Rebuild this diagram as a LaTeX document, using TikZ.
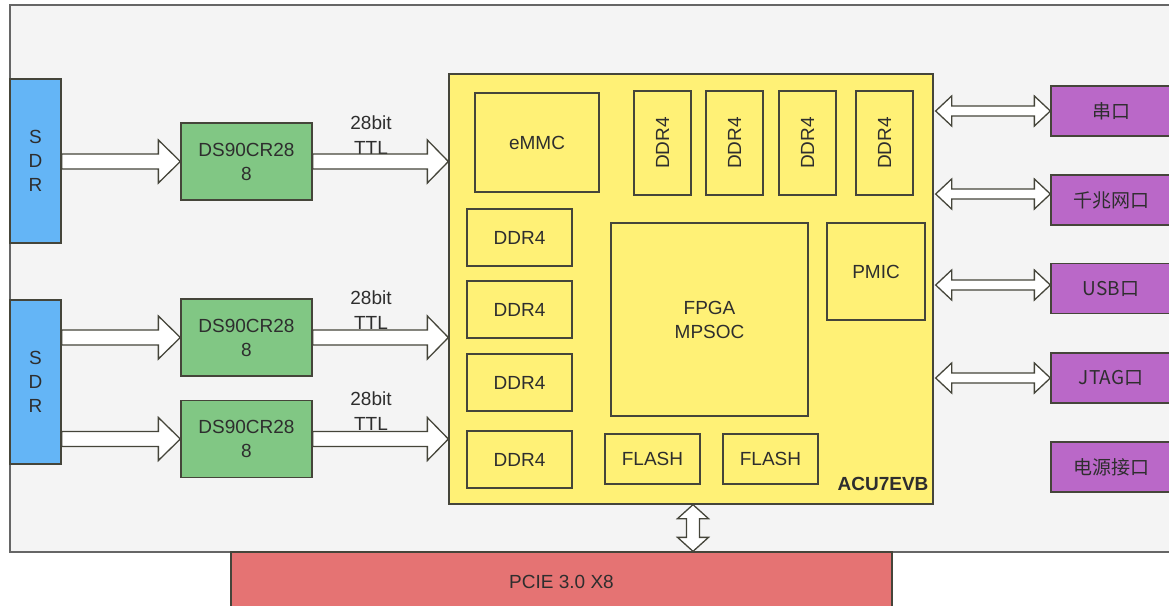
\documentclass[tikz,border=0pt]{standalone}
\usepackage{fontspec}
\setmainfont{Liberation Sans}
\newfontfamily\cjk{Noto Sans CJK SC}
\usetikzlibrary{calc}
\definecolor{framefill}{HTML}{F4F4F4}
\definecolor{framedraw}{HTML}{666666}
\definecolor{boxdraw}{HTML}{45453A}
\definecolor{txt}{HTML}{2E2E2E}
\definecolor{sdrblue}{HTML}{64B5F6}
\definecolor{dsgreen}{HTML}{81C784}
\definecolor{acuyellow}{HTML}{FFF176}
\definecolor{ifpurple}{HTML}{BA68C8}
\definecolor{pciered}{HTML}{E57373}
\newcommand\blkarrow[5]{% start, end, half shaft, half head, head length
  \draw[blockarr] let \p1=#1, \p2=#2 in
    (\x1,\y1+#3) -- (\x2-#5,\y1+#3) -- (\x2-#5,\y1+#4) -- (\x2,\y1)
    -- (\x2-#5,\y1-#4) -- (\x2-#5,\y1-#3) -- (\x1,\y1-#3) -- cycle;}
\newcommand\dblharrow[5]{% left point, right point, half shaft, half head, head length
  \draw[blockarr] let \p1=#1, \p2=#2 in
    (\x1,\y1) -- (\x1+#5,\y1+#4) -- (\x1+#5,\y1+#3) -- (\x2-#5,\y1+#3)
    -- (\x2-#5,\y1+#4) -- (\x2,\y1) -- (\x2-#5,\y1-#4) -- (\x2-#5,\y1-#3)
    -- (\x1+#5,\y1-#3) -- (\x1+#5,\y1-#4) -- cycle;}
\newcommand\dblvarrow[5]{% top point, bottom point, half shaft, half head, head length
  \draw[blockarr] let \p1=#1, \p2=#2 in
    (\x1,\y1) -- (\x1+#4,\y1-#5) -- (\x1+#3,\y1-#5) -- (\x1+#3,\y2+#5)
    -- (\x1+#4,\y2+#5) -- (\x1,\y2) -- (\x1-#4,\y2+#5) -- (\x1-#3,\y2+#5)
    -- (\x1-#3,\y1-#5) -- (\x1-#4,\y1-#5) -- cycle;}
\begin{document}
\begin{tikzpicture}[x=1pt,y=-1pt,
  every node/.style={text=txt,font=\fontsize{19}{24}\selectfont},
  blk/.style={draw=boxdraw,line width=1.3pt,inner sep=0pt,align=center},
  sdrbox/.style={blk,fill=sdrblue,minimum width=51pt,minimum height=164pt},
  dsbox/.style={blk,fill=dsgreen,minimum width=131pt,minimum height=77pt},
  inbox/.style={blk,fill=acuyellow},
  ddrh/.style={inbox,minimum width=105pt,minimum height=57pt},
  ddrv/.style={inbox,minimum width=57pt,minimum height=104pt},
  flashbox/.style={inbox,minimum width=95pt,minimum height=50pt},
  ifbox/.style={blk,fill=ifpurple,minimum width=120pt,minimum height=50pt,font=\fontsize{19}{24}\selectfont\cjk},
  blockarr/.style={draw=boxdraw,line width=1.3pt,fill=white,line join=miter},
  lbl/.style={align=center,inner sep=0pt,font=\fontsize{19}{25}\selectfont}]
\clip (0,0) rectangle (1169,605);
\fill[white] (0,0) rectangle (1169,605);
% outer frame
\draw[fill=framefill,draw=framedraw,line width=1.2pt] (10,5) rectangle (1190,552);
% PCIE
\node[blk,fill=pciered,minimum width=661pt,minimum height=60pt] (pcie) at (561.5,582) {PCIE 3.0 X8};
% SDR
\node[sdrbox] (sdr1) at (35.5,161) {S\\D\\R};
\node[sdrbox] (sdr2) at (35.5,382) {S\\D\\R};
% DS90CR288
\node[dsbox] (ds1) at (246.5,161.5) {DS90CR28\\8};
\node[dsbox] (ds2) at (246.5,337.5) {DS90CR28\\8};
\node[dsbox] (ds3) at (246.5,439) {DS90CR28\\8};
% main board
\node[blk,fill=acuyellow,minimum width=484pt,minimum height=430pt] (acu) at (691,289) {};
\node[anchor=east,inner sep=0pt,font=\fontsize{19}{24}\selectfont\bfseries] (acuname) at ($(acu.south east)+(-5,-21)$) {ACU7EVB};
\node[inbox,minimum width=124pt,minimum height=99pt] (emmc) at (537,142.5) {eMMC};
\node[ddrv] (v1) at (662.5,143) {\rotatebox{90}{DDR4}};
\node[ddrv] (v2) at (734.5,143) {\rotatebox{90}{DDR4}};
\node[ddrv] (v3) at (807.5,143) {\rotatebox{90}{DDR4}};
\node[ddrv] (v4) at (884.5,143) {\rotatebox{90}{DDR4}};
\node[ddrh] (d1) at (519.5,237.5) {DDR4};
\node[ddrh] (d2) at (519.5,309.5) {DDR4};
\node[ddrh] (d3) at (519.5,382.5) {DDR4};
\node[ddrh] (d4) at (519.5,459.5) {DDR4};
\node[inbox,minimum width=197pt,minimum height=193pt] (fpga) at (709.5,319.5) {FPGA\\MPSOC};
\node[inbox,minimum width=98pt,minimum height=97pt] (pmic) at (876,271.5) {PMIC};
\node[flashbox] (fl1) at (652.5,459) {FLASH};
\node[flashbox] (fl2) at (770.5,459) {FLASH};
% interfaces
\node[ifbox] (uart) at (1111,111) {串口};
\node[ifbox] (eth) at (1111,200) {千兆网口};
\node[ifbox] (usb) at (1111,288.5) {USB口};
\node[ifbox] (jtag) at (1111,378) {JTAG口};
\node[ifbox] (pwr) at (1111,467) {电源接口};
% labels
\node[lbl] (l1) at (371,135.5) {28bit\\TTL};
\node[lbl] (l2) at (371,310.5) {28bit\\TTL};
\node[lbl] (l3) at (371,411) {28bit\\TTL};
% left arrows
\blkarrow{(sdr1.east |- ds1.west)}{(ds1.west)}{7.5pt}{21.5pt}{22pt}
\blkarrow{(sdr2.east |- ds2.west)}{(ds2.west)}{7.5pt}{21.5pt}{22pt}
\blkarrow{(sdr2.east |- ds3.west)}{(ds3.west)}{7.5pt}{21.5pt}{22pt}
\blkarrow{(ds1.east)}{(ds1.east -| acu.west)}{7.5pt}{21.5pt}{21pt}
\blkarrow{(ds2.east)}{(ds2.east -| acu.west)}{7.5pt}{21.5pt}{21pt}
\blkarrow{(ds3.east)}{(ds3.east -| acu.west)}{7.5pt}{21.5pt}{21pt}
% right arrows
\coordinate (a1) at ($(acu.east |- uart.west)+(2,0)$);
\coordinate (a2) at ($(acu.east |- eth.west)+(2,-6)$);
\coordinate (a3) at ($(acu.east |- usb.west)+(2,-3.5)$);
\coordinate (a4) at ($(acu.east |- jtag.west)+(2,0)$);
\dblharrow{(a1)}{(a1 -| uart.west)}{5pt}{15pt}{16pt}
\dblharrow{(a2)}{(a2 -| eth.west)}{5pt}{15pt}{16pt}
\dblharrow{(a3)}{(a3 -| usb.west)}{5pt}{15pt}{16pt}
\dblharrow{(a4)}{(a4 -| jtag.west)}{5pt}{15pt}{16pt}
% PCIE arrow
\coordinate (p1) at ($(acu.south)+(2,0)$);
\dblvarrow{(p1)}{(p1 |- pcie.north)}{6.5pt}{15.5pt}{14pt}
\end{tikzpicture}
\end{document}
